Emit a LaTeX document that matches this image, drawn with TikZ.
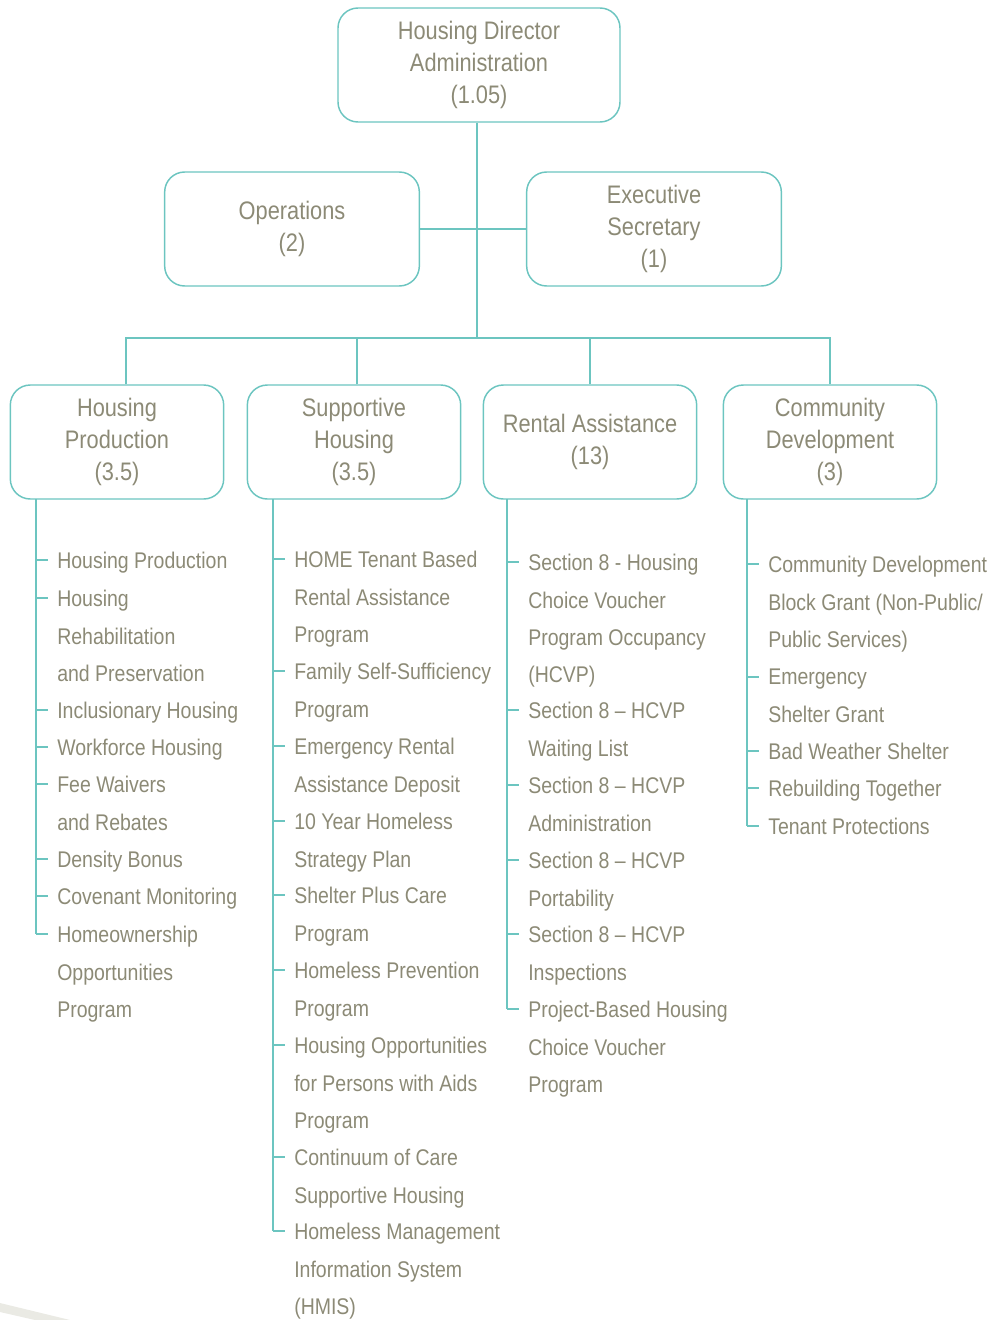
\documentclass[tikz,border=0pt]{standalone}
\usepackage{fontspec}
\setmainfont{Liberation Sans}[FakeStretch=0.86]
\definecolor{tealline}{RGB}{108,197,192}
\definecolor{labelgray}{RGB}{140,138,118}
\definecolor{swoosh}{RGB}{234,234,228}

\begin{document}
\begin{tikzpicture}[x=0.75pt,y=-0.75pt,
  box/.style={draw=tealline,line width=1.1pt,rounded corners=15pt,text=labelgray,
    align=center,minimum height=85.5pt,font=\fontsize{19}{24}\selectfont},
  item/.style={anchor=north west,text=labelgray,align=left,inner xsep=6.75pt,
    inner ysep=0pt,font=\fontsize{17}{28}\selectfont},
  link/.style={draw=tealline,line width=1.1pt}]
  % bounding box
  \useasboundingbox (0,0) rectangle (996,1320);
  \fill[swoosh] (0,1303) -- (70,1320) -- (35,1320) -- (0,1312) -- cycle;
  % Boxes
  \node[box,minimum width=211.5pt] (dir) at (479,65) {Housing Director\\Administration\\(1.05)};
  \node[box,minimum width=191pt] (ops) at (292,229) {Operations\\(2)};
  \node[box,minimum width=191pt] (sec) at (654,229) {Executive\\Secretary\\(1)};
  \node[box,minimum width=160pt] (hp) at (117,442) {Housing\\Production\\(3.5)};
  \node[box,minimum width=160pt] (sh) at (354,442) {Supportive\\Housing\\(3.5)};
  \node[box,minimum width=160pt] (ra) at (590,442) {Rental Assistance\\(13)};
  \node[box,minimum width=160pt] (cd) at (830,442) {Community\\Development\\(3)};
  % Links
  \coordinate (bus) at (477,338);
  \draw[link] (dir.south -| bus) -- (bus);
  \draw[link] (ops) -- (sec);
  \draw[link] ([xshift=6.75pt]hp.north) |- (cd.north |- bus) -- (cd.north);
  \draw[link] ([xshift=2.25pt]sh.north) -- ([xshift=2.25pt]sh.north |- bus);
  \draw[link] (ra.north) -- (ra.north |- bus);
  % Spines
  \coordinate (hpspine) at (36,499);
  \coordinate (shspine) at (273,499);
  \coordinate (raspine) at (507,499);
  \coordinate (cdspine) at (747,499);
  % Housing Production
  \foreach \y/\txt [count=\i] in {560/{Housing Production},
      598/{Housing\\Rehabilitation\\and Preservation},
      710/{Inclusionary Housing}, 747/{Workforce Housing},
      784/{Fee Waivers\\and Rebates}, 859/{Density Bonus},
      896/{Covenant Monitoring},
      934/{Homeownership\\Opportunities\\Program}} {
    \node[item] (hp\i) at (48,{\y-8}) {\txt};
    \coordinate (hpt\i) at ([yshift=-6pt]hp\i.north west);
    \draw[link] (hpspine |- hpt\i) -- (hpt\i);
  }
  \draw[link] (hpspine) -- (hpspine |- hpt8);
  % Supportive Housing
  \foreach \y/\txt [count=\i] in {559/{HOME Tenant Based\\Rental Assistance\\Program},
      671/{Family Self-Sufficiency\\Program},
      746/{Emergency Rental\\Assistance Deposit},
      821/{10 Year Homeless\\Strategy Plan},
      895/{Shelter Plus Care\\Program},
      970/{Homeless Prevention\\Program},
      1045/{Housing Opportunities\\for Persons with Aids\\Program},
      1157/{Continuum of Care\\Supportive Housing},
      1231/{Homeless Management\\Information System\\(HMIS)}} {
    \node[item] (sh\i) at (285,{\y-8}) {\txt};
    \coordinate (sht\i) at ([yshift=-6pt]sh\i.north west);
    \draw[link] (shspine |- sht\i) -- (sht\i);
  }
  \draw[link] (shspine) -- (shspine |- sht9);
  % Rental Assistance
  \foreach \y/\txt [count=\i] in {562/{Section 8 - Housing\\Choice Voucher\\Program Occupancy\\(HCVP)},
      710/{Section 8 -- HCVP\\Waiting List},
      785/{Section 8 -- HCVP\\Administration},
      860/{Section 8 -- HCVP\\Portability},
      934/{Section 8 -- HCVP\\Inspections},
      1009/{Project-Based Housing\\Choice Voucher\\Program}} {
    \node[item] (ra\i) at (519,{\y-8}) {\txt};
    \coordinate (rat\i) at ([yshift=-6pt]ra\i.north west);
    \draw[link] (raspine |- rat\i) -- (rat\i);
  }
  \draw[link] (raspine) -- (raspine |- rat6);
  % Community Development
  \foreach \y/\txt [count=\i] in {564/{Community Development\\Block Grant (Non-Public/\\Public Services)},
      677/{Emergency\\Shelter Grant},
      751/{Bad Weather Shelter},
      788/{Rebuilding Together},
      826/{Tenant Protections}} {
    \node[item] (cd\i) at (759,{\y-8}) {\txt};
    \coordinate (cdt\i) at ([yshift=-6pt]cd\i.north west);
    \draw[link] (cdspine |- cdt\i) -- (cdt\i);
  }
  \draw[link] (cdspine) -- (cdspine |- cdt5);
\end{tikzpicture}
\end{document}
